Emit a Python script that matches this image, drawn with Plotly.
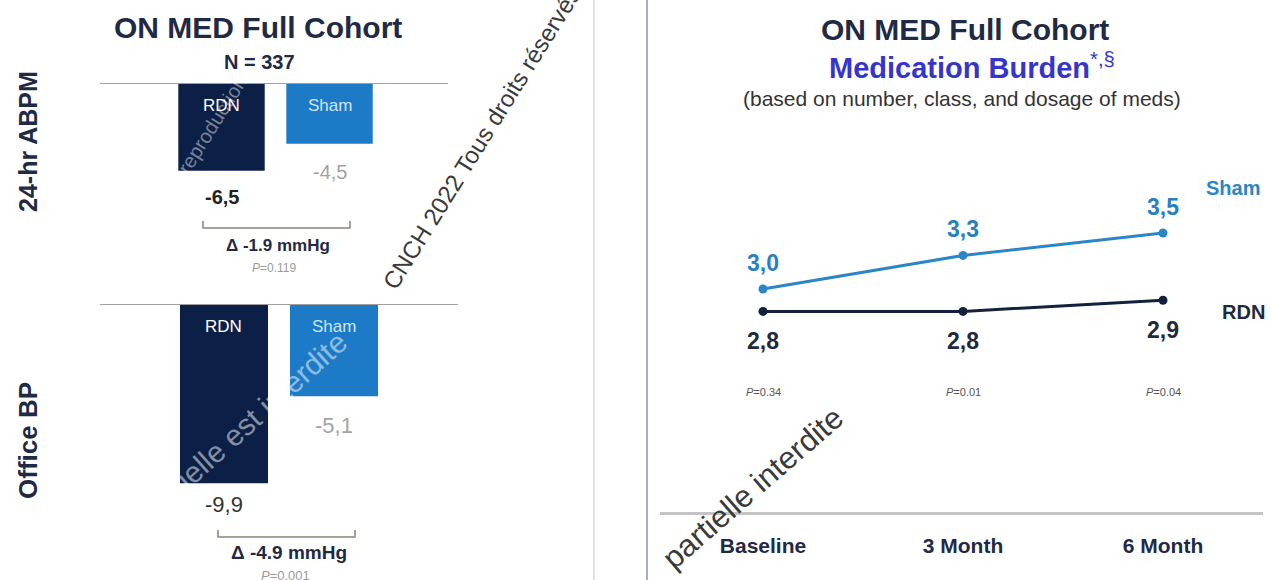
import plotly.graph_objects as go

W, H = 1272, 580


def px(x):
    return x / W


def py(y):
    return 1 - y / H


# ---- data ----
groups = ["RDN", "Sham"]
abpm_change = [-6.5, -4.5]
office_change = [-9.9, -5.1]
abpm_delta = "Δ -1.9 mmHg"
abpm_p = "0.119"
office_delta = "Δ -4.9 mmHg"
office_p = "0.001"

timepoints = ["Baseline", "3 Month", "6 Month"]
sham_burden = [3.0, 3.3, 3.5]
rdn_burden = [2.8, 2.8, 2.9]
p_values = ["0.34", "0.01", "0.04"]

# ---- styles ----
FONT = "Liberation Sans, Arial, sans-serif"
NAVY = "#0c1f47"
BLUE = "#1c7ac7"
LINE_BLUE = "#2a86c6"
LINE_DARK = "#14213d"
TXT = "#1f2a44"
GREY = "#a3a3a3"


def fmt(v):
    return f"{v:.1f}".replace(".", ",")


fig = go.Figure()

# 24-hr ABPM bars
fig.add_trace(go.Bar(x=groups, y=abpm_change, width=0.8,
                     marker=dict(color=[NAVY, BLUE], line=dict(width=0)),
                     xaxis="x", yaxis="y", showlegend=False, hoverinfo="skip"))
# Office BP bars
fig.add_trace(go.Bar(x=groups, y=office_change, width=0.8,
                     marker=dict(color=[NAVY, BLUE], line=dict(width=0)),
                     xaxis="x2", yaxis="y2", showlegend=False, hoverinfo="skip"))
# Medication burden lines
fig.add_trace(go.Scatter(x=timepoints, y=sham_burden, mode="lines+markers",
                         line=dict(color=LINE_BLUE, width=3),
                         marker=dict(size=9, color=LINE_BLUE),
                         xaxis="x3", yaxis="y3", showlegend=False, hoverinfo="skip"))
fig.add_trace(go.Scatter(x=timepoints, y=rdn_burden, mode="lines+markers",
                         line=dict(color=LINE_DARK, width=3),
                         marker=dict(size=9, color=LINE_DARK),
                         xaxis="x3", yaxis="y3", showlegend=False, hoverinfo="skip"))

hidden = dict(visible=False, fixedrange=True)

ann = []
shapes = []

# titles
ann.append(dict(x=px(258), y=py(28), xref="paper", yref="paper", text="<b>ON MED Full Cohort</b>",
                font=dict(size=30, color=TXT)))
ann.append(dict(x=px(259), y=py(62), xref="paper", yref="paper", text="<b>N = 337</b>",
                font=dict(size=20, color=TXT)))
ann.append(dict(x=px(965), y=py(29), xref="paper", yref="paper", text="<b>ON MED Full Cohort</b>",
                font=dict(size=30, color=TXT)))
ann.append(dict(x=px(972), y=py(66), xref="paper", yref="paper",
                text="<b>Medication Burden</b><sup>*,§</sup>",
                font=dict(size=29, color="#3535cc")))
ann.append(dict(x=px(962), y=py(99), xref="paper", yref="paper",
                text="(based on number, class, and dosage of meds)",
                font=dict(size=21, color="#333333")))

# side labels
ann.append(dict(x=px(28), y=py(142), xref="paper", yref="paper", text="<b>24-hr ABPM</b>",
                textangle=-90, font=dict(size=25, color=TXT)))
ann.append(dict(x=px(28), y=py(441), xref="paper", yref="paper", text="<b>Office BP</b>",
                textangle=-90, font=dict(size=26, color=TXT)))

# bar panels: in-bar labels, value labels, bracket, delta
panels = [
    dict(xa="x", ya="y", vals=abpm_change, vsize=20, rdn_bold=True,
         bx0=203, bx1=350, by=228, dx=278, dy=245, dsize=17, delta=abpm_delta,
         p=abpm_p, pdy=268, psize=12, shifts=[-26, -28]),
    dict(xa="x2", ya="y2", vals=office_change, vsize=22, rdn_bold=False,
         bx0=218, bx1=355, by=537, dx=289, dy=552, dsize=19, delta=office_delta,
         p=office_p, pdy=575, psize=13, shifts=[-21, -29]),
]
for pnl in panels:
    # zero baseline
    shapes.append(dict(type="line", xref=f"{pnl['xa']} domain", yref=pnl["ya"],
                       x0=0, x1=1, y0=0, y1=0, line=dict(color="#a0a0a0", width=2)))
    for g, v, s in zip(groups, pnl["vals"], pnl["shifts"]):
        ann.append(dict(x=g, y=0, xref=pnl["xa"], yref=pnl["ya"], text=g, yshift=-22,
                        font=dict(size=17, color="#ffffff" if g == "RDN" else "#cfe6f7")))
        if g == "RDN":
            txt = f"<b>{fmt(v)}</b>" if pnl["rdn_bold"] else fmt(v)
            col = "#222222" if pnl["rdn_bold"] else "#333333"
        else:
            txt = fmt(v)
            col = GREY
        ann.append(dict(x=g, y=v, xref=pnl["xa"], yref=pnl["ya"], text=txt, yshift=s,
                        font=dict(size=pnl["vsize"], color=col)))
    # bracket
    shapes.append(dict(type="path", xref="paper", yref="paper",
                       path=(f"M {px(pnl['bx0'])},{py(pnl['by'] - 7)} L {px(pnl['bx0'])},{py(pnl['by'])} "
                             f"L {px(pnl['bx1'])},{py(pnl['by'])} L {px(pnl['bx1'])},{py(pnl['by'] - 7)}"),
                       line=dict(color="#8a8478", width=1.5)))
    ann.append(dict(x=px(pnl["dx"]), y=py(pnl["dy"]), xref="paper", yref="paper",
                    text=f"<b>{pnl['delta']}</b>",
                    font=dict(size=pnl["dsize"], color=TXT)))
    ann.append(dict(x=px(pnl["dx"] - 4), y=py(pnl["pdy"]), xref="paper", yref="paper",
                    text=f"<i>P</i>={pnl['p']}",
                    font=dict(size=pnl["psize"], color="#9a9a9a")))

# line chart labels
for t, s, r, pv in zip(timepoints, sham_burden, rdn_burden, p_values):
    ann.append(dict(x=t, y=s, xref="x3", yref="y3", text=f"<b>{fmt(s)}</b>", yshift=26,
                    font=dict(size=23, color="#2a7fc0")))
    ann.append(dict(x=t, y=r, xref="x3", yref="y3", text=f"<b>{fmt(r)}</b>", yshift=-30,
                    font=dict(size=23, color="#1e2a40")))
    ann.append(dict(x=t, y=py(392), xref="x3", yref="paper", text=f"<i>P</i>={pv}",
                    font=dict(size=11, color="#555555")))

ann.append(dict(x=px(1233), y=py(188), xref="paper", yref="paper", text="<b>Sham</b>",
                font=dict(size=20, color=LINE_BLUE)))
ann.append(dict(x=px(1243), y=py(312), xref="paper", yref="paper", text="<b>RDN</b>",
                font=dict(size=20, color="#1e2a40")))

# watermark
ann.append(dict(x=px(481), y=py(138), xref="paper", yref="paper",
                text="CNCH 2022 Tous droits réservés", textangle=-58,
                font=dict(size=24, color="#3a3a3a")))
ann.append(dict(x=px(752), y=py(488), xref="paper", yref="paper",
                text="partielle interdite", textangle=-41,
                font=dict(size=31, color="#3a3a3a")))
ann.append(dict(x=px(212), y=py(125), xref="paper", yref="paper",
                text="reproduction", textangle=-58,
                font=dict(size=20, color="rgba(255,255,255,0.45)")))
ann.append(dict(x=px(242), y=py(427), xref="paper", yref="paper",
                text="partielle est interdite", textangle=-42,
                font=dict(size=30, color="rgba(255,255,255,0.5)")))

for a in ann:
    a.setdefault("showarrow", False)
    a.setdefault("xanchor", "center")
    a.setdefault("yanchor", "middle")

# panel frame lines
shapes.append(dict(type="line", xref="paper", yref="paper", x0=px(594), x1=px(594), y0=0, y1=1,
                   line=dict(color="#d6d6d6", width=1.5)))
shapes.append(dict(type="line", xref="paper", yref="paper", x0=px(647), x1=px(647), y0=0, y1=1,
                   line=dict(color="#a9aec2", width=2)))

fig.update_layout(
    width=W, height=H,
    margin=dict(l=0, r=0, t=0, b=0),
    paper_bgcolor="white", plot_bgcolor="rgba(0,0,0,0)",
    font=dict(family=FONT),
    xaxis=dict(domain=[px(100), px(448)], range=[-1.125, 2.097], anchor="y", **hidden),
    yaxis=dict(domain=[py(283), py(83)], range=[-200 / 13.5, 0], anchor="x", **hidden),
    xaxis2=dict(domain=[px(100), px(458)], range=[-1.127, 2.127], anchor="y2", **hidden),
    yaxis2=dict(domain=[py(554), py(304)], range=[-250 / 18.1, 0], anchor="x2", **hidden),
    xaxis3=dict(domain=[px(660), px(1263)], range=[-0.515, 2.5], anchor="y3",
                showline=True, linecolor="#c4c4c4", linewidth=2.5, showgrid=False,
                zeroline=False, ticks="", ticklabelstandoff=13, fixedrange=True,
                tickfont=dict(size=21, color=TXT, weight="bold")),
    yaxis3=dict(domain=[py(512), py(120)], range=[1.009, 4.509], anchor="x3",
                **hidden),
    annotations=ann,
    shapes=shapes,
)

fig.write_html("out.html")
